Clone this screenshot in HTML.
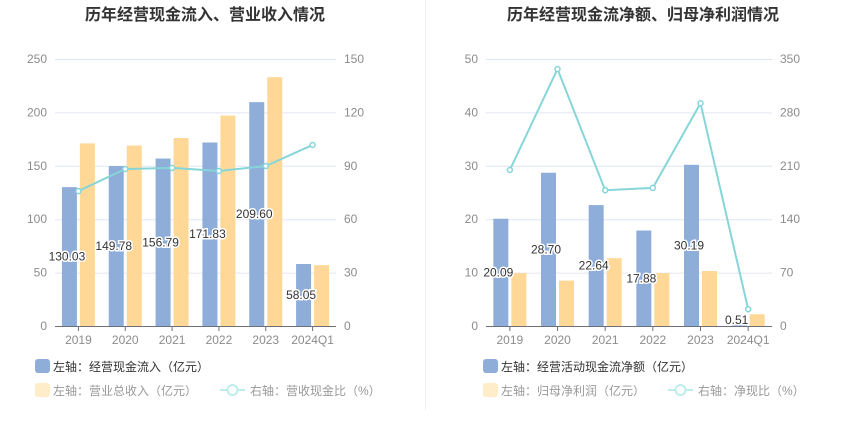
<!DOCTYPE html>
<html><head><meta charset="utf-8">
<style>
body{margin:0;background:#fff;}
svg{display:block;font-family:"Liberation Sans","Noto Sans CJK SC",sans-serif;}
</style></head>
<body>
<svg id="c" width="850" height="437">
<line x1="425.5" y1="0" x2="425.5" y2="410" stroke="#eeeeee"/>
</svg>
<script>
const categories=['2019','2020','2021','2022','2023','2024Q1'];
const inflowValues=[130.03,149.78,156.79,171.83,209.60,58.05];
const revenueValues=[171,169,176,197,233,57];
const cashRatioValues=[75.8,88.2,88.8,87.1,89.9,101.7];
const leftTicksA=[0,50,100,150,200,250];
const rightTicksA=[0,30,60,90,120,150];
const netCashValues=[20.09,28.70,22.64,17.88,30.19,0.51];
const netProfitValues=[9.9,8.5,12.7,9.9,10.3,2.2];
const netRatioValues=[204.5,336.9,178,181,292,22];
const leftTicksB=[0,10,20,30,40,50];
const rightTicksB=[0,70,140,210,280,350];

const svg=document.getElementById('c');
const NS='http://www.w3.org/2000/svg';
function mk(tag,attrs,parent){const e=document.createElementNS(NS,tag);for(const k in attrs)e.setAttribute(k,attrs[k]);(parent||svg).appendChild(e);return e;}

function panel(cfg){
  const g=mk('g',{});
  
  
  const y0=326,y1=59;
  const yL=v=>y0-(v/cfg.lMax)*(y0-y1);
  const yR=v=>y0-(v/cfg.rMax)*(y0-y1);
  const step=(cfg.x1-cfg.x0)/categories.length;
  const xc=i=>cfg.x0+step*(i+0.5);
  const t=mk('text',{x:cfg.tx,y:20,'text-anchor':'middle','font-size':'16','font-weight':'bold',fill:'#333'},g);
  t.textContent=cfg.title;
  
  
  cfg.lt.forEach((v,i)=>{
    const y=yL(v);
    if(i>0){const l=mk('line',{x1:cfg.x0,x2:cfg.x1,y1:y+0.5,y2:y+0.5,stroke:'#e0e6f1'},g);
      }
    const a=mk('text',{x:cfg.x0-8,y:y+4,'text-anchor':'end','font-size':'12',fill:'#8c8c8c'},g);a.textContent=v;
    
    const b=mk('text',{x:cfg.x1+8,y:yR(cfg.rt[i])+4,'text-anchor':'start','font-size':'12',fill:'#8c8c8c'},g);b.textContent=cfg.rt[i];
    
  });
  const bw=15;
  categories.forEach((c,i)=>{
    const x=xc(i);
    const b1=mk('rect',{x:x-bw-1.5,y:yL(cfg.a[i]),width:bw,height:y0-yL(cfg.a[i]),fill:'#8eadd9'},g);
    
    const b2=mk('rect',{x:x+1.5,y:yL(cfg.b[i]),width:bw,height:y0-yL(cfg.b[i]),fill:'#ffd897'},g);
    
    const tk=mk('line',{x1:x,x2:x,y1:y0,y2:y0+5,stroke:'#6e7079'},g);
    
    const xl=mk('text',{x:x,y:y0+18,'text-anchor':'middle','font-size':'12',fill:'#8c8c8c'},g);xl.textContent=c;
    
  });
  const ax=mk('line',{x1:cfg.x0,x2:cfg.x1,y1:y0+0.5,y2:y0+0.5,stroke:'#6e7079'},g);
  
  const pts=cfg.r.map((v,i)=>xc(i)+','+yR(v)).join(' ');
  const pl=mk('polyline',{points:pts,fill:'none',stroke:'#86d6d9','stroke-width':'2'},g);
  
  cfg.r.forEach((v,i)=>{
    const p=mk('circle',{cx:xc(i),cy:yR(v),r:2.5,fill:'#fff',stroke:'#86d6d9','stroke-width':'1.5'},g);
    
  });
  categories.forEach((c,i)=>{
    const x=xc(i)-bw/2-4;
    const y=cfg.a[i]<cfg.lMax*0.05?y0-2:(yL(cfg.a[i])+y0)/2+4;
    const lb=mk('text',{x:x,y:y,'text-anchor':'middle','font-size':'12',fill:'#333',stroke:'#fff','stroke-width':'3','paint-order':'stroke'},g);
    lb.textContent=cfg.a[i].toFixed(2);
    
  });
  const lx=cfg.lx;
  const s1=mk('rect',{x:lx,y:359,width:15,height:14,rx:3,fill:'#8eadd9'},g);
  
  const t1=mk('text',{x:lx+18,y:371,'font-size':'12',fill:'#333'},g);t1.textContent=cfg.lg[0];
  
  const s2=mk('rect',{x:lx,y:383,width:15,height:14,rx:3,fill:'#ffecc9'},g);
  
  const t2=mk('text',{x:lx+18,y:395,'font-size':'12',fill:'#999'},g);t2.textContent=cfg.lg[1];
  
  const ox=cfg.ox;
  const ll=mk('line',{x1:ox,x2:ox+25,y1:390,y2:390,stroke:'#bdeced','stroke-width':'2'},g);
  
  const lc=mk('circle',{cx:ox+12.5,cy:390,r:5,fill:'#fff',stroke:'#bdeced','stroke-width':'2'},g);
  
  const t3=mk('text',{x:ox+30,y:395,'font-size':'12',fill:'#999'},g);t3.textContent=cfg.lg[2];
  
}
panel({name:'cash-inflow-panel',title:'历年经营现金流入、营业收入情况',tx:205,x0:55,x1:336,lMax:250,rMax:150,lt:leftTicksA,rt:rightTicksA,
  a:inflowValues,b:revenueValues,r:cashRatioValues,lg:['左轴：经营现金流入（亿元）','左轴：营业总收入（亿元）','右轴：营收现金比（%）'],lx:35,ox:220});
panel({name:'net-cash-panel',title:'历年经营现金流净额、归母净利润情况',tx:643,x0:486,x1:772,lMax:50,rMax:350,lt:leftTicksB,rt:rightTicksB,
  a:netCashValues,b:netProfitValues,r:netRatioValues,lg:['左轴：经营活动现金流净额（亿元）','左轴：归母净利润（亿元）','右轴：净现比（%）'],lx:483,ox:668});
</script>
</body></html>
